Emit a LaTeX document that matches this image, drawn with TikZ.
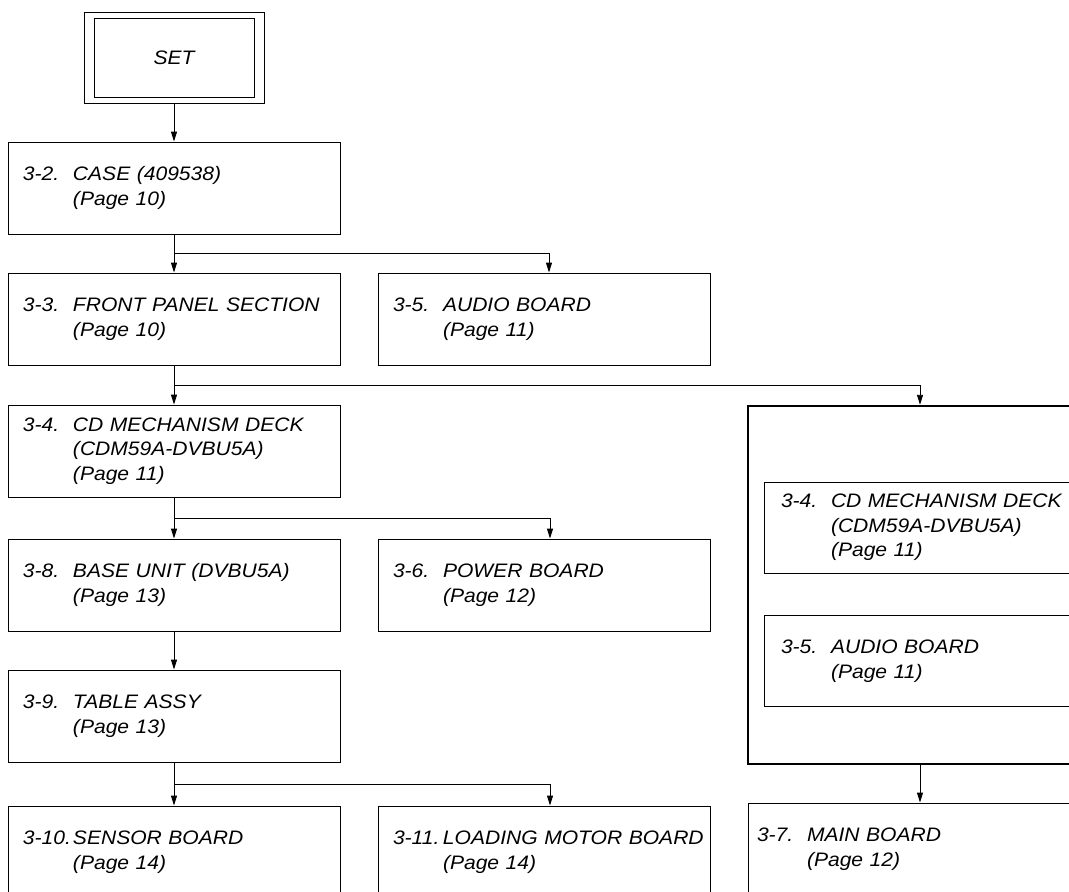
\documentclass[tikz,border=0pt]{standalone}
\usepackage{fontspec}
\setmainfont{Liberation Sans}[FakeStretch=1.08]
\usetikzlibrary{arrows.meta,positioning,calc}
\newcommand{\lbl}[2]{\makebox[50pt][l]{#1}\begin{tabular}[t]{@{}l@{}}#2\end{tabular}}

\begin{document}
\begin{tikzpicture}[
  x=1pt,y=-1pt,
  box/.style={draw,line width=0.9pt,minimum height=92pt,text width=302pt,inner xsep=15pt,inner ysep=0pt,align=left,font=\fontsize{19.5}{24.5}\selectfont\itshape},
  wide/.style={box,text width=314pt},
  inset/.style={box,text width=278pt,inner xsep=17pt,minimum height=91pt},
  group/.style={draw,line width=2.4pt,minimum width=344pt,minimum height=358pt,inner sep=0pt},
  >={Triangle[length=10pt,width=6pt]},line width=0.9pt
]
\useasboundingbox (0,0) rectangle (1069,892);
\clip (0,0) rectangle (1069,892);
% top of the tree
\node[draw,minimum width=180pt,minimum height=91pt] (setframe) at (174,57.5) {};
\node[draw,minimum width=160pt,minimum height=79pt,font=\fontsize{19.5}{24.5}\selectfont\itshape] (set) at (174,57.5) {SET};
% left column
\node[box] (c32)  at (174,188) {\lbl{3-2.}{CASE (409538)\\(Page 10)}};
\node[box] (c33)  at (174,319) {\lbl{3-3.}{FRONT PANEL SECTION\\(Page 10)}};
\node[box] (c34)  at (174,451) {\lbl{3-4.}{CD MECHANISM DECK\\(CDM59A-DVBU5A)\\(Page 11)}};
\node[box] (c38)  at (174,585) {\lbl{3-8.}{BASE UNIT (DVBU5A)\\(Page 13)}};
\node[box] (c39)  at (174,716) {\lbl{3-9.}{TABLE ASSY\\(Page 13)}};
\node[box] (c310) at (174,852) {\lbl{3-10.}{SENSOR BOARD\\(Page 14)}};
% middle column
\node[box] (audio) at (544,319) {\lbl{3-5.}{AUDIO BOARD\\(Page 11)}};
\node[box] (power) at (544,585) {\lbl{3-6.}{POWER BOARD\\(Page 12)}};
\node[box] (c311)  at (544,852) {\lbl{3-11.}{LOADING MOTOR BOARD\\(Page 14)}};
% right column
\node[group] (big) at (920,585) {};
\node[inset] (deck) at (920,527.5) {\lbl{3-4.}{CD MECHANISM DECK\\(CDM59A-DVBU5A)\\(Page 11)}};
\node[inset] (aud2) at (920,661) {\lbl{3-5.}{AUDIO BOARD\\(Page 11)}};
\node[wide,inner xsep=9pt,text width=326pt] (main) at (920,849) {\lbl{3-7.}{MAIN BOARD\\(Page 12)}};
% connectors
\draw[->] (setframe.south) -- (c32.north);
\draw[->] (c32.south) -- (c33.north);
\draw[->] ($(c32.south)!0.5!(c33.north)$) -| ([xshift=5pt]audio.north);
\draw[->] (c33.south) -- (c34.north);
\draw[->] ($(c33.south)!0.5!(c34.north)$) -| (big.north);
\draw[->] (c34.south) -- (c38.north);
\draw[->] ($(c34.south)!0.5!(c38.north)$) -| ([xshift=6pt]power.north);
\draw[->] (c38.south) -- (c39.north);
\draw[->] (c39.south) -- (c310.north);
\draw[->] ($(c39.south)!0.5!(c310.north)$) -| ([xshift=6pt]c311.north);
\draw[->] (big.south) -- (main.north);
\end{tikzpicture}
\end{document}
